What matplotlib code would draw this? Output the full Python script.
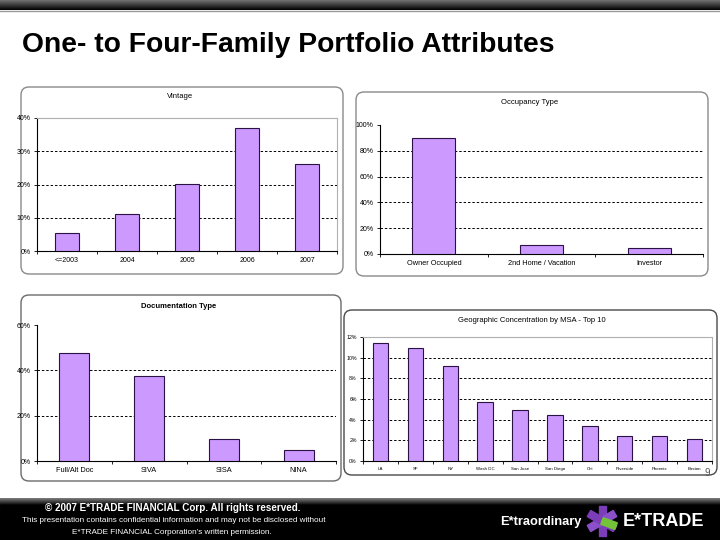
import matplotlib
matplotlib.use("Agg")
import matplotlib.pyplot as plt
import numpy as np
from matplotlib.patches import FancyBboxPatch, Rectangle, Polygon

plt.rcParams['font.family'] = ['Liberation Sans', 'DejaVu Sans']

# Data (percent)
vintage_labels = ['<=2003', '2004', '2005', '2006', '2007']
vintage_vals = [5.5, 11.2, 20.1, 36.9, 26.1]

occ_labels = ['Owner Occupied', '2nd Home / Vacation', 'Investor']
occ_vals = [89.7, 6.7, 5.0]

doc_labels = ['Full/Alt Doc', 'SIVA', 'SISA', 'NINA']
doc_vals = [47.6, 37.4, 9.7, 5.0]

msa_labels = ['LA', 'SF', 'NY', 'Wash DC', 'San Jose', 'San Diego', 'Chi',
              'Riverside', 'Phoenix', 'Boston']
msa_vals = [11.4, 10.9, 9.2, 5.7, 4.9, 4.5, 3.4, 2.4, 2.4, 2.1]

W, H = 720, 540
BAR_FACE = '#cc99ff'
BAR_EDGE = '#2b1245'


def rect(l, t, r, b):
    # pixel box -> figure fraction
    return [l / W, 1 - b / H, (r - l) / W, (b - t) / H]


fig = plt.figure(figsize=(7.2, 5.4), dpi=100)

# background layer for bands, boxes, title, footer
bg = fig.add_axes([0, 0, 1, 1], zorder=0)
bg.set_xlim(0, W)
bg.set_ylim(H, 0)
bg.axis('off')

# top band gradient
grad = np.linspace(0.45, 0.0, 50).reshape(-1, 1)
bg.imshow(grad, extent=(0, W, 10, 0), cmap='gray', vmin=0, vmax=1, aspect='auto')
bg.plot([0, W], [10.5, 10.5], color='#9a9a9a', lw=1)

bg.text(22, 45, 'One- to Four-Family Portfolio Attributes', fontsize=20.3,
        fontweight='bold', va='center', ha='left', color='black')

# footer band
grad2 = np.linspace(0.5, 0.02, 50).reshape(-1, 1)
bg.imshow(grad2, extent=(0, W, 505, 498), cmap='gray', vmin=0, vmax=1, aspect='auto')
bg.add_patch(Rectangle((0, 505), W, H - 505, color='black'))
bg.text(173, 508, '\u00a9 2007 E*TRADE FINANCIAL Corp. All rights reserved.', color='white',
        fontsize=7.1, fontweight='bold', ha='center', va='center', zorder=4)
bg.text(174, 521, 'This presentation contains confidential information and may not be disclosed without',
        color='white', fontsize=5.9, ha='center', va='center')
bg.text(172, 532, 'E*TRADE FINANCIAL Corporation\'s written permission.',
        color='white', fontsize=5.9, ha='center', va='center')

# logo
bg.text(500, 522, 'E*traordinary', color='white', fontsize=9.3, fontweight='bold',
        ha='left', va='center')
cx, cy = 602, 521
for ang, col in [(90, '#7b3db8'), (30, '#8a4fc9'), (150, '#7b3db8'), (-20, '#74c23a')]:
    a = np.deg2rad(ang)
    dx, dy = np.cos(a) * 15, -np.sin(a) * 15
    nx, ny = np.sin(a) * 3.5, np.cos(a) * 3.5
    if col == '#74c23a':
        pts = [(cx + nx, cy + ny), (cx + dx + nx, cy + dy + ny),
               (cx + dx - nx, cy + dy - ny), (cx - nx, cy - ny)]
    else:
        pts = [(cx - dx + nx, cy - dy + ny), (cx + dx + nx, cy + dy + ny),
               (cx + dx - nx, cy + dy - ny), (cx - dx - nx, cy - dy - ny)]
    bg.add_patch(Polygon(pts, color=col, zorder=3))
bg.text(623, 522, 'E*TRADE', color='white', fontsize=13, fontweight='bold',
        ha='left', va='center')
bg.text(707, 473, '9', color='#555555', fontsize=7, ha='center', va='center')

# rounded frames around charts
frames = [((21, 87, 343, 274), '#8a8a8a'), ((356, 92, 708, 276), '#8a8a8a'),
          ((21, 295, 341, 481), '#6a6a6a'), ((344, 310, 717, 475), '#4a4a4a')]
for (l, t, r, b), ec in frames:
    bg.add_patch(FancyBboxPatch((l, t), r - l, b - t, boxstyle='round,pad=0,rounding_size=8',
                                facecolor='white', edgecolor=ec, lw=1.0))


def bar_panel(box, labels, vals, ymax, step, title, title_xy, bold=False,
              ylab_size=5, xlab_size=5, width=0.4, frame_top=False):
    ax = fig.add_axes(rect(*box), zorder=2)
    ax.set_facecolor('none')
    x = np.arange(len(labels))
    ax.bar(x, vals, width=width, color=BAR_FACE, edgecolor=BAR_EDGE, lw=0.8, zorder=3)
    ax.set_xlim(-0.5, len(labels) - 0.5)
    ax.set_ylim(0, ymax)
    ticks = np.arange(0, ymax + step / 2, step)
    ax.set_yticks(ticks)
    ax.set_yticklabels(['%d%%' % t for t in ticks], fontsize=ylab_size)
    for t in ticks[1:]:
        if t < ymax:
            ax.axhline(t, color='black', lw=0.7, ls=(0, (2.5, 2)), zorder=1)
    ax.set_xticks(x)
    ax.set_xticklabels(labels, fontsize=xlab_size)
    ax.set_xticks(np.arange(-0.5, len(labels)), minor=True)
    ax.tick_params(axis='x', which='major', length=0, pad=4)
    ax.tick_params(axis='x', which='minor', length=2.5, width=0.6)
    ax.tick_params(axis='y', length=2.5, width=0.6, pad=2)
    for s in ['left', 'bottom']:
        ax.spines[s].set_linewidth(0.8)
    if frame_top:
        ax.spines['top'].set_color('#b0b0b0')
        ax.spines['right'].set_color('#b0b0b0')
        ax.spines['top'].set_linewidth(0.8)
        ax.spines['right'].set_linewidth(0.8)
    else:
        ax.spines['top'].set_visible(False)
        ax.spines['right'].set_visible(False)
    bg.text(title_xy[0], title_xy[1], title, fontsize=5.5,
            fontweight='bold' if bold else 'normal', ha='center', va='center')
    return ax


bar_panel((37, 118, 337, 251), vintage_labels, vintage_vals, 40, 10, 'Vintage', (180, 97),
          frame_top=True)
bar_panel((380, 125, 703, 254), occ_labels, occ_vals, 100, 20, 'Occupancy Type', (530, 103),
          ylab_size=5, xlab_size=5.3)
bar_panel((37, 325, 336, 461), doc_labels, doc_vals, 60, 20, 'Documentation Type', (179, 307),
          bold=True, xlab_size=5.3)
bar_panel((363, 337, 712, 461), msa_labels, msa_vals, 12, 2, 'Geographic Concentration by MSA - Top 10',
          (532, 320), ylab_size=3.8, xlab_size=3.2, width=0.44, frame_top=True)

fig.savefig('out.png', dpi=100)
